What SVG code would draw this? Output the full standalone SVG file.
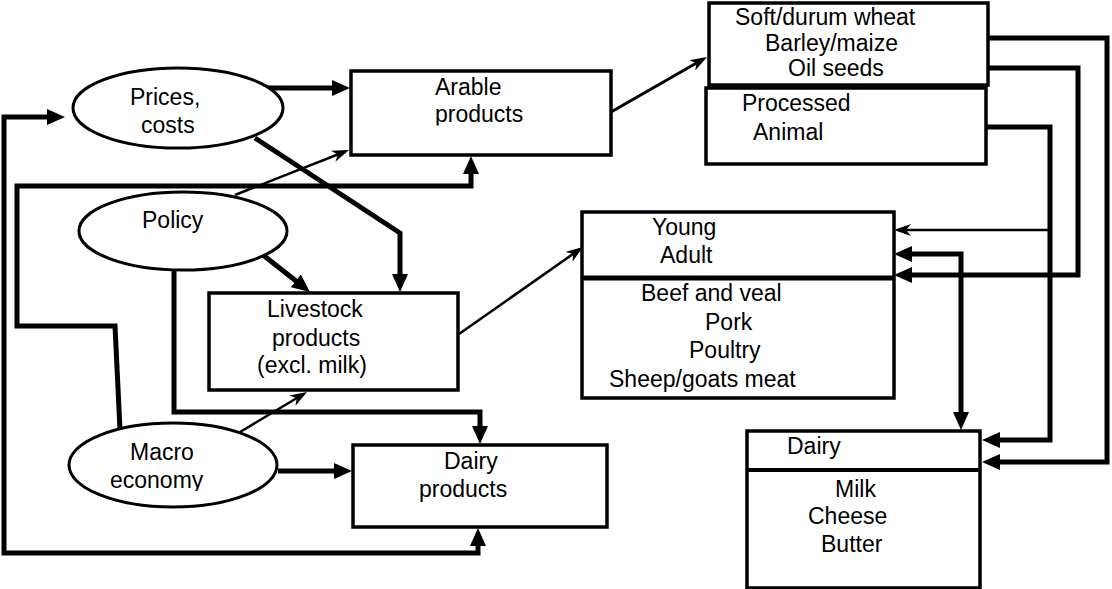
<svg xmlns="http://www.w3.org/2000/svg" width="1112" height="589" viewBox="0 0 1112 589">
<style>
  .box{fill:#fff;stroke:#000;stroke-width:3.5}
  .ell{fill:#fff;stroke:#000;stroke-width:3}
  .t{font-family:"Liberation Sans",Arial,sans-serif;font-size:23px;fill:#000}
  .thick{fill:none;stroke:#000;stroke-width:5;marker-end:url(#ah)}
  .thin{fill:none;stroke:#000;stroke-width:2.5;marker-end:url(#as)}
  .div{stroke:#000}
</style>
<defs>
  <marker id="ah" viewBox="0 0 18 16" refX="10" refY="8" markerWidth="18" markerHeight="16" orient="auto-start-reverse" markerUnits="userSpaceOnUse">
    <path d="M0,0 L18,8 L0,16 z" fill="#000"/>
  </marker>
  <marker id="as" viewBox="0 0 17 12" refX="13" refY="6" markerWidth="17" markerHeight="12" orient="auto-start-reverse" markerUnits="userSpaceOnUse">
    <path d="M0,0 L17,6 L0,12 L5,6 z" fill="#000"/>
  </marker>
  <clipPath id="clipMacro"><rect x="0" y="0" width="1112" height="491"/></clipPath>
  <clipPath id="clipArable"><rect x="0" y="0" width="1112" height="125.5"/></clipPath>
</defs>

<g id="connectors">
  <path class="thick" d="M263,88 H342"/>
  <path class="thick" d="M255,138 L400,233 V284"/>
  <path class="thin" d="M235,195 L345.3,151.5"/>
  <path class="thick" d="M263,255 L303.7,287"/>
  <path class="thick" d="M174,268 V412 H480 V436"/>
  <path class="thick" d="M120,430 L115,326 H17 V186 H471 V164"/>
  <path class="thin" d="M240,432 L303.6,394"/>
  <path class="thick" d="M278,471 H344"/>
  <path class="thick" d="M478,536 V553 H4 V117 H57" style="marker-start:url(#ah)"/>
  <path class="thin" style="stroke-width:3" d="M611,112 L703.5,59"/>
  <path class="thin" d="M459,334 L579.7,249.3"/>
  <path class="thick" d="M988,38 H1107 V462 H990"/>
  <path class="thick" d="M988,68 H1078 V275 H902"/>
  <path class="thick" d="M986,127 H1050 V440 H990"/>
  <path class="thin" d="M1050,230 H898"/>
  <path class="thick" d="M902,254 H961 V422" style="marker-start:url(#ah)"/>
</g>

<g id="prices">
  <ellipse class="ell" cx="178" cy="108" rx="105" ry="40"/>
  <text class="t" x="130" y="105">Prices,</text>
  <text class="t" x="141" y="133">costs</text>
</g>
<g id="policy">
  <ellipse class="ell" cx="183" cy="231" rx="104" ry="39"/>
  <text class="t" x="142" y="228">Policy</text>
</g>
<g id="macro">
  <ellipse class="ell" cx="173" cy="465" rx="104" ry="42"/>
  <g clip-path="url(#clipMacro)">
    <text class="t" x="130" y="460">Macro</text>
    <text class="t" x="110" y="488">economy</text>
  </g>
</g>
<g id="arable">
  <rect class="box" x="351" y="71" width="260" height="84"/>
  <g clip-path="url(#clipArable)">
    <text class="t" x="435" y="95">Arable</text>
    <text class="t" x="435" y="122">products</text>
  </g>
</g>
<g id="livestock">
  <rect class="box" x="209" y="293" width="249" height="97"/>
  <text class="t" x="267" y="317">Livestock</text>
  <text class="t" x="272" y="346">products</text>
  <text class="t" x="257" y="373">(excl. milk)</text>
</g>
<g id="dairyproducts">
  <rect class="box" x="353" y="445" width="254" height="82"/>
  <text class="t" x="444" y="469">Dairy</text>
  <text class="t" x="419" y="497">products</text>
</g>
<g id="crops">
  <rect class="box" x="709" y="3" width="279" height="82"/>
  <text class="t" x="735" y="25">Soft/durum wheat</text>
  <text class="t" x="765" y="51">Barley/maize</text>
  <text class="t" x="788" y="76">Oil seeds</text>
</g>
<g id="processed">
  <rect class="box" x="706" y="88" width="280" height="76"/>
  <text class="t" x="742" y="111">Processed</text>
  <text class="t" x="753" y="140">Animal</text>
</g>
<g id="meat">
  <rect class="box" x="582" y="212" width="312" height="186"/>
  <line class="div" x1="582" y1="278" x2="894" y2="278" stroke-width="5"/>
  <text class="t" x="652" y="235">Young</text>
  <text class="t" x="660" y="263">Adult</text>
  <text class="t" x="641" y="301">Beef and veal</text>
  <text class="t" x="705" y="330">Pork</text>
  <text class="t" x="689" y="358">Poultry</text>
  <text class="t" x="609" y="387">Sheep/goats meat</text>
</g>
<g id="dairy">
  <rect class="box" x="747" y="431" width="233" height="157"/>
  <line class="div" x1="747" y1="470" x2="980" y2="470" stroke-width="4"/>
  <text class="t" x="787" y="454">Dairy</text>
  <text class="t" x="835" y="497">Milk</text>
  <text class="t" x="808" y="524">Cheese</text>
  <text class="t" x="821" y="552">Butter</text>
</g>
</svg>
